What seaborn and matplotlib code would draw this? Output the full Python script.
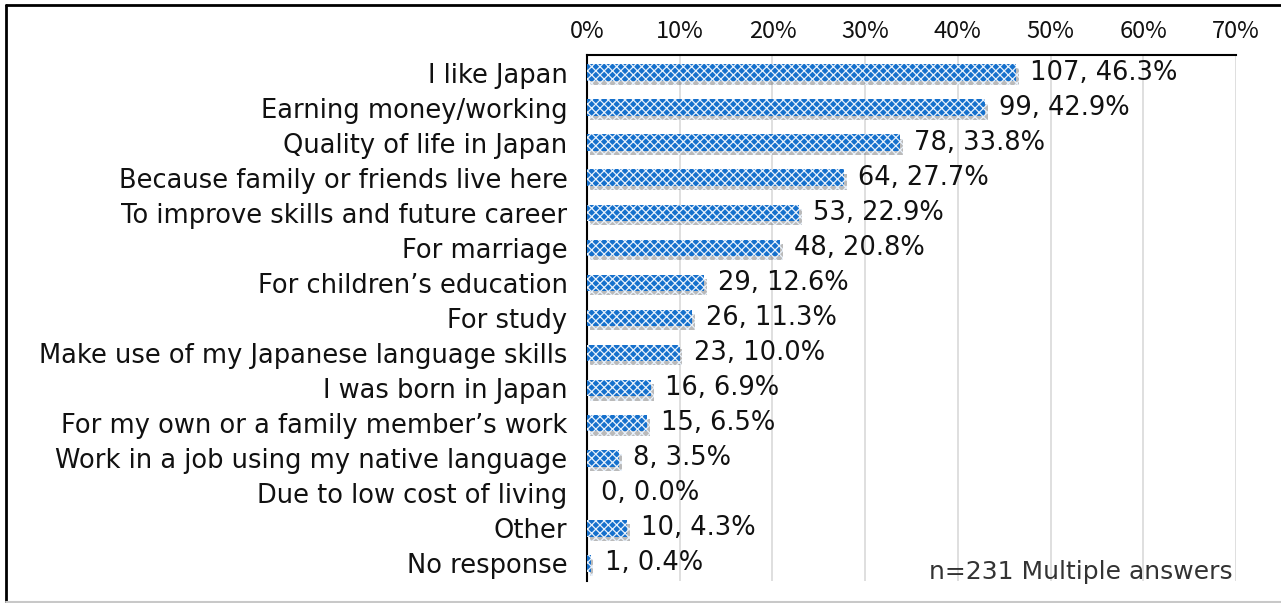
import matplotlib
matplotlib.use("Agg")
import matplotlib.pyplot as plt
import matplotlib.patheffects as pe
from matplotlib.lines import Line2D
from matplotlib.ticker import MultipleLocator, FuncFormatter
import seaborn as sns
import pandas as pd

reasons = [
    "I like Japan",
    "Earning money/working",
    "Quality of life in Japan",
    "Because family or friends live here",
    "To improve skills and future career",
    "For marriage",
    "For children\u2019s education",
    "For study",
    "Make use of my Japanese language skills",
    "I was born in Japan",
    "For my own or a family member\u2019s work",
    "Work in a job using my native language",
    "Due to low cost of living",
    "Other",
    "No response",
]
counts = [107, 99, 78, 64, 53, 48, 29, 26, 23, 16, 15, 8, 0, 10, 1]
percents = [46.3, 42.9, 33.8, 27.7, 22.9, 20.8, 12.6, 11.3, 10.0, 6.9, 6.5, 3.5, 0.0, 4.3, 0.4]
x_ticks = [0, 10, 20, 30, 40, 50, 60, 70]
note = "n=231 Multiple answers"

df = pd.DataFrame({"reason": reasons, "percent": percents, "count": counts})

sns.set_theme(style="white")
plt.rcParams["font.family"] = ["DejaVu Sans"]
plt.rcParams["hatch.linewidth"] = 0.9

W, H = 1281, 603
fig = plt.figure(figsize=(W / 100, H / 100), dpi=100)
ax = fig.add_axes([587 / W, 1 - 581 / H, (1236 - 587) / W, (581 - 55) / H])

sns.barplot(data=df, y="reason", x="percent", orient="h", ax=ax,
            color="#1570cc", width=0.47, saturation=1)

shadow = [pe.SimplePatchShadow(offset=(2, -3), shadow_rgbFace="#777777", alpha=0.5),
          pe.Normal()]
for bar in ax.patches:
    bar.set_hatch("xxxx")
    bar.set_edgecolor("#e8f1fb")
    bar.set_linewidth(0)
    bar.set_path_effects(shadow)
    bar.set_zorder(3)

for i, (c, p) in enumerate(zip(counts, percents)):
    ax.annotate(f"{c}, {p:.1f}%", xy=(p, i), xytext=(10, 0), textcoords="offset points",
                ha="left", va="center", fontsize=18.5, color="#111111", zorder=4)

ax.set_xlim(x_ticks[0], x_ticks[-1])
ax.xaxis.set_major_locator(MultipleLocator(10))
ax.xaxis.set_major_formatter(FuncFormatter(lambda v, _: f"{v:.0f}%"))
ax.xaxis.tick_top()
ax.tick_params(axis="x", length=0, pad=9, labelcolor="#111111")
ax.tick_params(axis="y", length=0, pad=14, labelsize=18.5, labelcolor="#111111")
for lbl in ax.get_xticklabels():
    lbl.set_fontfamily(["Noto Sans CJK JP", "DejaVu Sans"])
    lbl.set_fontsize(17)
ax.set_xlabel("")
ax.set_ylabel("")
ax.grid(axis="x", color="#d9d9d9", linewidth=1.2, zorder=0)
ax.set_axisbelow(True)

for side in ["bottom", "right"]:
    ax.spines[side].set_visible(False)
ax.spines["left"].set_color("black")
ax.spines["left"].set_linewidth(1.5)
ax.spines["top"].set_color("black")
ax.spines["top"].set_linewidth(1.5)

ax.text(0.995, -0.005, note, transform=ax.transAxes, ha="right", va="bottom",
        fontsize=18, color="#333333")

# outer frame lines
fig.add_artist(Line2D([6 / W, 6 / W], [0, 1 - 5 / H], transform=fig.transFigure, color="black", lw=2))
fig.add_artist(Line2D([6 / W, 1], [1 - 5 / H, 1 - 5 / H], transform=fig.transFigure, color="black", lw=2))
fig.add_artist(Line2D([6 / W, 1], [1 / H, 1 / H], transform=fig.transFigure, color="#c8c8c8", lw=1.5))

fig.savefig("out.png", dpi=100)
